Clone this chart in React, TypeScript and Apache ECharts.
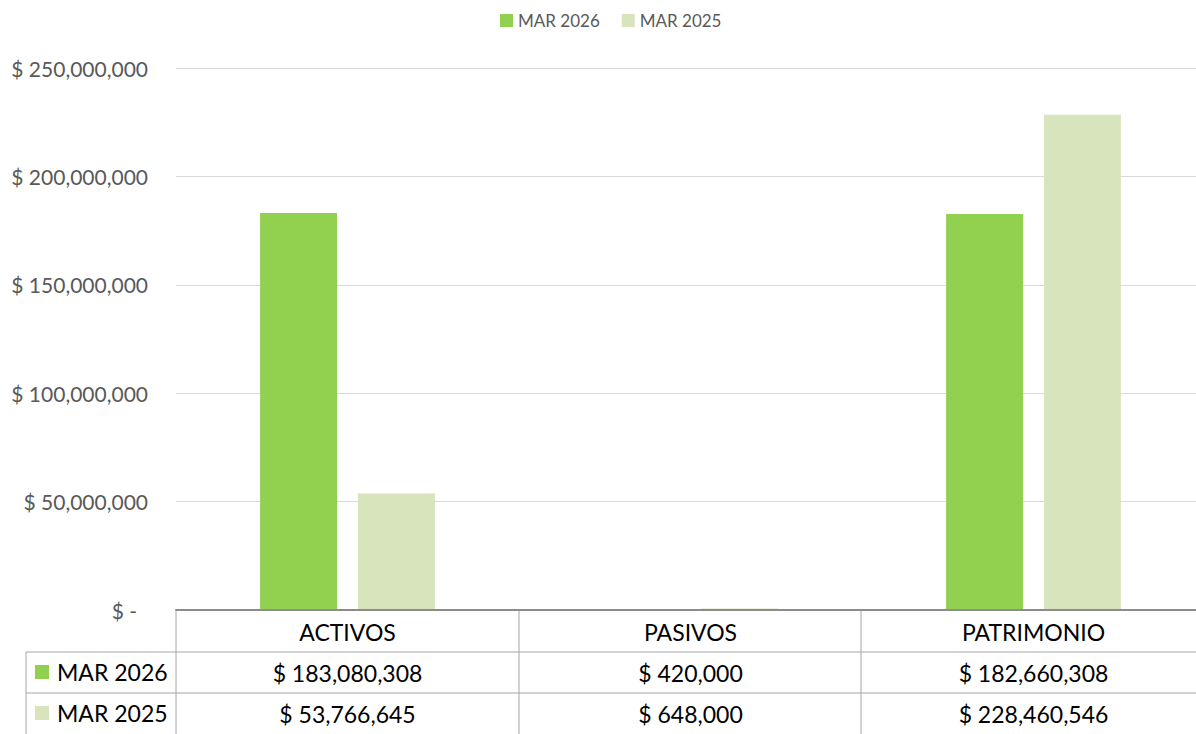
import React, { useEffect, useRef } from "react";
import * as echarts from "echarts";

const categories = ["ACTIVOS", "PASIVOS", "PATRIMONIO"];
const seriesNames = ["MAR 2026", "MAR 2025"];
const mar2026 = [183080308, 420000, 182660308];
const mar2025 = [53766645, 648000, 228460546];
const yTicks = [0, 50000000, 100000000, 150000000, 200000000, 250000000];

const COLORS = ["#92D050", "#D8E4BC"];
const FONT = "Lato, 'Open Sans', sans-serif";

const money = (v: number) => "$ " + v.toLocaleString("en-US");

export default function App() {
  const ref = useRef<HTMLDivElement>(null);
  useEffect(() => {
    document.body.style.margin = "0";
    document.body.style.overflow = "hidden";
    const chart = echarts.init(ref.current!, null, { renderer: "svg" });
    const values = [mar2026, mar2025];
    const lineStyle = { stroke: "#a6a6a6", lineWidth: 1 };
    const rowY = [672, 713];
    const graphic: any[] = [
      { type: "line", shape: { x1: 176, y1: 610, x2: 176, y2: 734 }, style: lineStyle },
      { type: "line", shape: { x1: 519, y1: 610, x2: 519, y2: 734 }, style: lineStyle },
      { type: "line", shape: { x1: 861, y1: 610, x2: 861, y2: 734 }, style: lineStyle },
      { type: "line", shape: { x1: 26, y1: 652, x2: 26, y2: 734 }, style: lineStyle },
      { type: "line", shape: { x1: 26, y1: 652, x2: 1205, y2: 652 }, style: lineStyle },
      { type: "line", shape: { x1: 26, y1: 693, x2: 1205, y2: 693 }, style: lineStyle },
    ];
    seriesNames.forEach((n, i) => {
      graphic.push({
        type: "rect",
        shape: { x: 35, y: rowY[i] - 7, width: 14, height: 14 },
        style: { fill: COLORS[i] },
      });
      graphic.push({
        type: "text",
        x: 57,
        y: rowY[i],
        style: {
          text: n,
          font: `23px ${FONT}`,
          fill: "#000",
          verticalAlign: "middle",
          align: "left",
        },
      });
    });

    chart.setOption({
      animation: false,
      textStyle: { fontFamily: FONT },
      legend: {
        top: 7,
        left: 495,
        itemWidth: 13,
        itemHeight: 13,
        itemGap: 22,
        icon: "rect",
        textStyle: { fontSize: 17, color: "#595959", fontFamily: FONT },
        data: seriesNames,
      },
      grid: { left: 176, right: 0, top: 68, bottom: 124, containLabel: false },
      xAxis: {
        type: "category",
        data: categories,
        z: 5,
        axisLine: { show: true, lineStyle: { color: "#8c8c8c", width: 2 } },
        axisTick: { show: false },
        axisLabel: {
          margin: 1,
          interval: 0,
          color: "#000",
          fontSize: 23,
          lineHeight: 41,
          fontFamily: FONT,
          formatter: (v: string, idx: number) =>
            [v, ...values.map((arr) => money(arr[idx]))].join("\n"),
        },
      },
      yAxis: {
        type: "value",
        min: yTicks[0],
        max: yTicks[yTicks.length - 1],
        interval: yTicks[1] - yTicks[0],
        axisLine: { show: false },
        axisTick: { show: false },
        splitLine: { lineStyle: { color: "#d9d9d9", width: 1 } },
        axisLabel: {
          margin: 28,
          color: "#595959",
          fontSize: 21,
          fontFamily: FONT,
          formatter: (v: number) => (v === 0 ? "{z|$ -}" : money(v)),
          rich: { z: { fontSize: 21, color: "#595959", fontFamily: FONT, padding: [0, 11, 0, 0] } },
        },
      },
      series: seriesNames.map((n, i) => ({
        name: n,
        type: "bar",
        data: values[i],
        barWidth: 77,
        barGap: "27%",
        itemStyle: { color: COLORS[i] },
      })),
      graphic,
    });
    return () => chart.dispose();
  }, []);
  return (
    <div style={{ width: 1196, height: 734, overflow: "hidden" }}>
      <div ref={ref} style={{ width: 1205, height: 734 }} />
    </div>
  );
}
